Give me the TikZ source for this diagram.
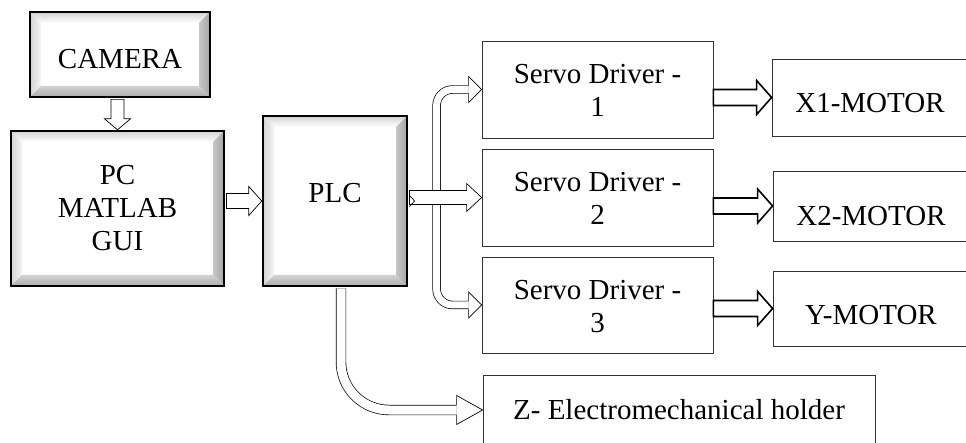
\documentclass[tikz,border=0pt]{standalone}
\usepackage{fontspec}
\setmainfont{Liberation Serif}
\usetikzlibrary{calc}

\newcommand\bevw{11pt}
% move a label up (+) or down (-) inside its box
\newcommand\nudge[2]{\raisebox{#1}[\height][\depth]{#2}}
\newcommand\twolines[2]{\begin{tabular}{@{}c@{}}#1\\#2\end{tabular}}
% straight hollow block arrows: [style]{tail}{tip}{half shaft}{half head}{head length}
\newcommand\blockright[6][hollow]{%
  \draw[#1] let \p1=(#2), \p2=(#3) in
    (\x1,\y2+#4) -- (\x2-#6,\y2+#4) -- (\x2-#6,\y2+#5) -- (\x2,\y2)
    -- (\x2-#6,\y2-#5) -- (\x2-#6,\y2-#4) -- (\x1,\y2-#4) -- cycle;}
\newcommand\blockdown[6][hollow]{%
  \draw[#1] let \p1=(#2), \p2=(#3) in
    (\x2+#4,\y1) -- (\x2+#4,\y2+#6) -- (\x2+#5,\y2+#6) -- (\x2,\y2)
    -- (\x2-#5,\y2+#6) -- (\x2-#4,\y2+#6) -- (\x2-#4,\y1) -- cycle;}
% open head for the double-line arrows: {tip}{half shaft}{half head}{head length}
\newcommand\headright[4]{%
  \filldraw[hollow] let \p1=(#1) in
    (\x1-#4,\y1+#2) -- (\x1-#4,\y1+#3) -- (\x1,\y1)
    -- (\x1-#4,\y1-#3) -- (\x1-#4,\y1-#2);}

\begin{document}
\begin{tikzpicture}[x=1pt,y=-1pt,
    font=\fontsize{29}{33}\selectfont,
    box/.style={draw=black!80, line width=0.8pt, align=center, inner sep=0pt},
    bevelbox/.style={draw=black, line width=2.4pt, fill=white, align=center, inner sep=0pt,
      path picture={
        \coordinate (bnw) at (path picture bounding box.north west);
        \coordinate (bse) at (path picture bounding box.south east);
        \coordinate (bne) at (bse |- bnw);
        \coordinate (bsw) at (bnw |- bse);
        \shade[top color=gray!35, bottom color=white] (bnw) -- (bne)
          -- ([shift={(-\bevw,-\bevw)}]bne) -- ([shift={(\bevw,-\bevw)}]bnw) -- cycle;
        \shade[left color=gray!35, right color=gray!8] (bnw) -- ([shift={(\bevw,-\bevw)}]bnw)
          -- ([shift={(\bevw,\bevw)}]bsw) -- (bsw) -- cycle;
        \shade[left color=gray!45, right color=gray!70] (bne) -- (bse)
          -- ([shift={(-\bevw,\bevw)}]bse) -- ([shift={(-\bevw,-\bevw)}]bne) -- cycle;
        \shade[top color=gray!35, bottom color=gray!65] (bsw) -- (bse)
          -- ([shift={(-\bevw,\bevw)}]bse) -- ([shift={(\bevw,\bevw)}]bsw) -- cycle;
      }},
    hollow/.style={draw=black, line width=0.7pt, fill=white},
    thickhollow/.style={draw=black, line width=1.6pt, fill=white},
    bus/.style={draw=black, line width=0.7pt, double=white, double distance=7pt},
    zbus/.style={draw=black, line width=0.7pt, double=white, double distance=9pt}]
  \useasboundingbox (0,0) rectangle (966,443);

  % left column
  \node[bevelbox, minimum width=180pt, minimum height=85pt] (cam) at (120,54.5) {\nudge{-5pt}{CAMERA}};
  \node[bevelbox, minimum width=213pt, minimum height=155pt] (pc) at (117.5,208.5) {PC\\MATLAB\\GUI};
  \node[bevelbox, minimum width=144pt, minimum height=170pt] (plc) at (335,201) {\nudge{8pt}{PLC}};

  % drivers
  \node[box, minimum width=231pt, minimum height=97pt] (sd1) at (597.5,89.5) {\nudge{-4pt}{\twolines{Servo Driver -}{1}}};
  \node[box, minimum width=231pt, minimum height=97pt] (sd2) at (597.5,197.5) {\nudge{-4pt}{\twolines{Servo Driver -}{2}}};
  \node[box, minimum width=231pt, minimum height=96pt] (sd3) at (597.5,305) {\nudge{-4pt}{\twolines{Servo Driver -}{3}}};

  % motors
  \node[box, minimum width=196pt, minimum height=77pt] (m1) at (870,97.5) {\nudge{-6pt}{X1-MOTOR}};
  \node[box, minimum width=196pt, minimum height=70pt] (m2) at (871,206) {\nudge{-10pt}{X2-MOTOR}};
  \node[box, minimum width=196pt, minimum height=75pt] (m3) at (871,308.5) {\nudge{-7pt}{Y-MOTOR}};
  \node[box, minimum width=392pt, minimum height=70pt] (z) at (679,410) {Z- Electromechanical holder};

  % arrows
  \blockdown{$(cam.south)+(0,1.2)$}{pc.north}{6.5pt}{13pt}{11pt}
  \blockright{$(pc.east)+(1.2,0)$}{plc.west}{7.5pt}{14.5pt}{13pt}

  \draw[bus, rounded corners=16pt] ($(sd1.west)+(-13,0)$) -- ($(sd1.west)+(-45,0)$)
    |- ($(sd3.west)+(-13,0)$);
  \headright{sd1.west}{3.85pt}{13pt}{13pt}
  \headright{sd3.west}{3.85pt}{13pt}{13pt}
  \blockright{$(plc.east)+(1.2,0)$}{sd2.west}{7pt}{14pt}{15pt}
  \draw[hollow, fill=none] ($(plc.east)+(1.2,-5.5)$) -- ($(plc.east)+(6.5,0)$) -- ($(plc.east)+(1.2,5.5)$);

  \draw[zbus, rounded corners=48pt] ($(plc.south)+(6,1.2)$) |- ($(z.west)+(-26,0)$);
  \headright{z.west}{4.85pt}{14.5pt}{26pt}

  \blockright[thickhollow]{sd1.east}{m1.west}{8pt}{17pt}{15pt}
  \blockright[thickhollow]{sd2.east}{m2.west}{8pt}{17pt}{15pt}
  \blockright[thickhollow]{sd3.east}{m3.west}{8pt}{17pt}{15pt}
\end{tikzpicture}
\end{document}
